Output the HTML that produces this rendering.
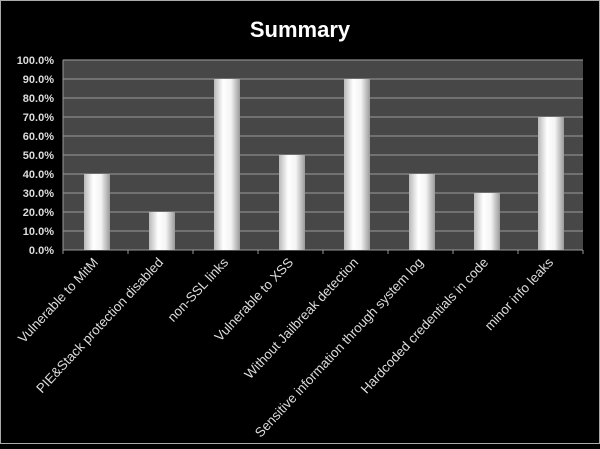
<!DOCTYPE html><html><head><style>body{margin:0;background:#000}</style></head><body>
<svg width="600" height="444" xmlns="http://www.w3.org/2000/svg" font-family="Liberation Sans, sans-serif">
<defs><linearGradient id="g" x1="0" x2="1" y1="0" y2="0"><stop offset="0" stop-color="#b8b8b8"/><stop offset="0.35" stop-color="#fff"/><stop offset="0.65" stop-color="#f4f4f4"/><stop offset="1" stop-color="#9a9a9a"/></linearGradient></defs>
<rect x="0.5" y="0.5" width="599" height="443" fill="#000" stroke="#aaa"/>
<text x="300" y="37" fill="#fff" font-size="22" font-weight="bold" text-anchor="middle">Summary</text>
<rect x="63" y="60" width="520" height="190" fill="#474747"/>
<g stroke="#8a8a8a" stroke-width="1.2">
<line x1="63" x2="583" y1="60" y2="60"/><line x1="63" x2="583" y1="79" y2="79"/><line x1="63" x2="583" y1="98" y2="98"/><line x1="63" x2="583" y1="117" y2="117"/><line x1="63" x2="583" y1="136" y2="136"/><line x1="63" x2="583" y1="155" y2="155"/><line x1="63" x2="583" y1="174" y2="174"/><line x1="63" x2="583" y1="193" y2="193"/><line x1="63" x2="583" y1="212" y2="212"/><line x1="63" x2="583" y1="231" y2="231"/>
</g>
<g stroke="#999"><line x1="63" x2="583" y1="250" y2="250"/><line x1="63" x2="63" y1="60" y2="254"/>
<line x1="128" x2="128" y1="250" y2="254"/><line x1="193" x2="193" y1="250" y2="254"/><line x1="258" x2="258" y1="250" y2="254"/><line x1="323" x2="323" y1="250" y2="254"/><line x1="388" x2="388" y1="250" y2="254"/><line x1="453" x2="453" y1="250" y2="254"/><line x1="518" x2="518" y1="250" y2="254"/><line x1="583" x2="583" y1="250" y2="254"/></g>
<g fill="url(#g)">
<rect x="84" y="174" width="26" height="76"/><rect x="149" y="212" width="26" height="38"/><rect x="214" y="79" width="26" height="171"/><rect x="279" y="155" width="26" height="95"/><rect x="344" y="79" width="26" height="171"/><rect x="409" y="174" width="26" height="76"/><rect x="474" y="193" width="26" height="57"/><rect x="538" y="117" width="26" height="133"/>
</g>
<g fill="#ddd" font-size="11" font-weight="bold" text-anchor="end">
<text x="54" y="64">100.0%</text><text x="54" y="83">90.0%</text><text x="54" y="102">80.0%</text><text x="54" y="121">70.0%</text><text x="54" y="140">60.0%</text><text x="54" y="159">50.0%</text><text x="54" y="178">40.0%</text><text x="54" y="197">30.0%</text><text x="54" y="216">20.0%</text><text x="54" y="235">10.0%</text><text x="54" y="254">0.0%</text>
</g>
<g fill="#ddd" font-size="13.3" text-anchor="end">
<text transform="translate(99,263) rotate(-47)">Vulnerable to MitM</text>
<text transform="translate(164,263) rotate(-47)">PIE&amp;Stack protection disabled</text>
<text transform="translate(229,263) rotate(-47)">non-SSL links</text>
<text transform="translate(294,263) rotate(-47)">Vulnerable to XSS</text>
<text transform="translate(359,263) rotate(-47)">Without Jailbreak detection</text>
<text transform="translate(424,263) rotate(-47)">Sensitive information  through system log</text>
<text transform="translate(489,263) rotate(-47)">Hardcoded credentials in code</text>
<text transform="translate(554,263) rotate(-47)">minor info leaks</text>
</g>
</svg></body></html>
